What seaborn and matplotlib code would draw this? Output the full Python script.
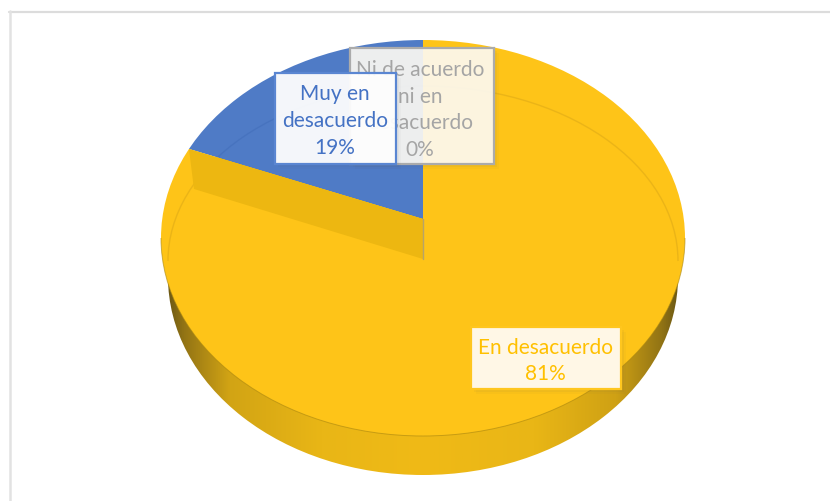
import numpy as np
import matplotlib
matplotlib.use("Agg")
import matplotlib.pyplot as plt
from matplotlib.colors import LinearSegmentedColormap
from matplotlib.patches import Ellipse, Arc, Polygon, Rectangle
from matplotlib.transforms import Affine2D
import seaborn as sns

categories = ["Muy en\ndesacuerdo", "Ni de acuerdo\nni en\ndesacuerdo", "En desacuerdo"]
shares = [19, 0, 81]
slice_colors = ["#4F7BC6", "#FEC418", "#FEC418"]
label_colors = ["#4472C4", "#A5A5A5", "#FFC000"]

W, H = 830, 502
CX, CY, RX, RY = 423, 239, 262, 198   # top surface of the disc, in pixels
APEX_DY = 19                          # slice apex sits above the ellipse centre (perspective)
DEPTH = 39                            # thickness of the disc

sns.set_theme(style="white")
plt.rcParams["font.family"] = ["Lato", "DejaVu Sans"]

fig = plt.figure(figsize=(W / 100, H / 100), dpi=100, facecolor="white")
ax = fig.add_axes([0, 0, 1, 1])

xlim = (-CX / RX, (W - CX) / RX)
ylim = ((CY - H) / RY, CY / RY)
apex = (0, APEX_DY / RY)

# Side wall: horizontal shading clipped to the lower ellipse
side_cmap = LinearSegmentedColormap.from_list(
    "rim", [(0, "#6E5A14"), (0.03, "#937415"), (0.12, "#D2A414"), (0.3, "#E9B616"),
            (0.5, "#F0BA16"), (0.72, "#E9B616"), (0.88, "#CFA114"), (0.97, "#917315"), (1, "#6E5A14")])
side = Ellipse((0, -DEPTH / RY), 2 * 255 / RX, 2, transform=ax.transData, fc="none", ec="none")
ax.add_patch(side)
grad = ax.imshow(np.linspace(0, 1, 256)[None, :], cmap=side_cmap, aspect="auto", zorder=0,
                 extent=(-255 / RX, 255 / RX, -1.3, 0.4))
grad.set_clip_path(side)

# Top surface: the slices are cut from the perspective apex and trimmed to the disc outline
wedges, _ = ax.pie(shares, colors=slice_colors, startangle=90, counterclock=True,
                   center=apex, radius=1.4, wedgeprops={"linewidth": 0, "zorder": 1})
disc = Ellipse((0, 0), 2, 2, transform=ax.transData, fc="none", ec="none")
ax.add_patch(disc)
for w in wedges:
    w.set_clip_on(True)
    w.set_clip_path(disc)

# Fine dark seam where the top surface meets the side wall
ax.add_patch(Arc((0, 0), 2, 2, theta1=180, theta2=360, ec="#A98610", lw=0.7, alpha=0.6, zorder=1.5))

# Bevel line just inside the rim, tinted to the slice it crosses
for wedge, tint in [(wedges[0], "#4470BC"), (wedges[2], "#E3AE17")]:
    bevel = Arc((0, -23 / RY), 2 * 255 / RX, 2 * 175 / RY, theta1=0, theta2=180,
                ec=tint, lw=1.0, alpha=0.7, zorder=1.6)
    ax.add_patch(bevel)
    bevel.set_clip_path(wedge)

# Inner cut face exposed below the detached slice
theta = np.deg2rad(90 + 360 * shares[0] / sum(shares))
ux, uy = np.cos(theta), np.sin(theta)
b = apex[1] * uy
t = -b + np.sqrt(b * b - (apex[1] ** 2 - 1))
rim = (apex[0] + t * ux, apex[1] + t * uy)
depth = (DEPTH + 1) / RY
ax.add_patch(Polygon([apex, rim, (rim[0] + 5 / RX, rim[1] - depth), (apex[0], apex[1] - depth)],
                     fc="#EDB711", ec="none", zorder=2))
ax.plot([apex[0], apex[0]], [apex[1], apex[1] - depth], color="#B7A468", lw=1.0, zorder=2.1)

ax.set_aspect("auto")
ax.set_xlim(xlim)
ax.set_ylim(ylim)
ax.axis("off")

# Pixel space for the chart frame and the label boxes
px = Affine2D().scale(1 / W, -1 / H).translate(0, 1) + fig.transFigure


def label_box(x0, y0, x1, y1, edge, face, alpha, z):
    for off, a in [(6, 0.03), (4, 0.05), (2, 0.08)]:
        ax.add_patch(Rectangle((x0 + off - 1, y0 + off - 1), x1 - x0, y1 - y0, transform=px,
                               fc="#555555", ec="none", alpha=a, zorder=z - 0.2))
    ax.add_patch(Rectangle((x0, y0), x1 - x0, y1 - y0, transform=px, fc=face, ec="none",
                           alpha=alpha, zorder=z))
    ax.add_patch(Rectangle((x0, y0), x1 - x0, y1 - y0, transform=px, fc="none", ec=edge,
                           lw=1.6, zorder=z + 0.1))


boxes = [
    (275, 74, 396, 165, "#5A86D2", "#FFFFFF", 0.94, 5, 335, 121),
    (350, 49, 494, 165, "#ABABAB", "#FFFCF5", 0.9, 4, 420, 110),
    (471, 328, 621, 390, "#FFC61E", "#FFF7E6", 1.0, 4, 545, 361),
]
for (x0, y0, x1, y1, edge, face, alpha, z, tx, ty), cat, val, col in zip(boxes, categories, shares, label_colors):
    label_box(x0, y0, x1, y1, edge, face, alpha, z)
    ax.text(tx, ty, f"{cat}\n{val}%", transform=px, ha="center", va="center", color=col,
            fontsize=15, linespacing=1.43, zorder=z + 0.2)

# Chart frame: only the top and left edges fall inside the canvas
fig.add_artist(plt.Line2D([9, W], [12.5, 12.5], transform=px, color="#DCDCDC", lw=1.6))
fig.add_artist(plt.Line2D([10, 10], [12, H], transform=px, color="#E2E2E2", lw=1.8))

fig.savefig("out.png", dpi=100, facecolor="white")
